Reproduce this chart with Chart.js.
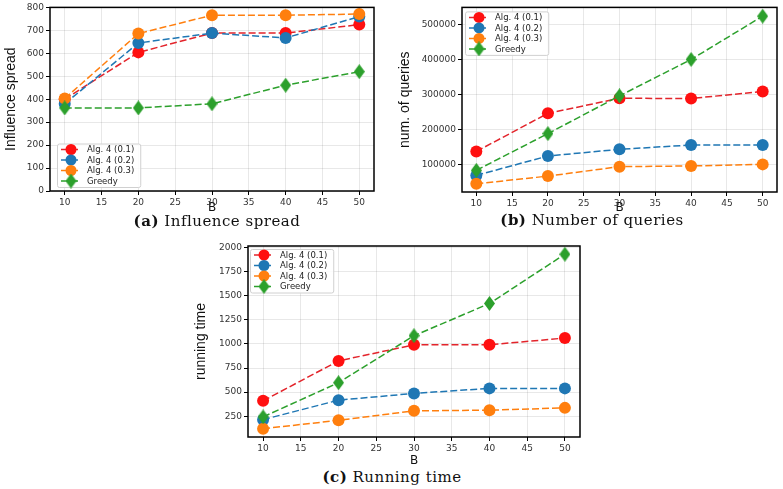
<!DOCTYPE html>
<html>
<head>
<meta charset="utf-8">
<script src="https://cdn.jsdelivr.net/npm/chart.js@4.4.1/dist/chart.umd.min.js"></script>
<style>
  body { margin: 0; background: #fff; width: 783px; height: 489px; position: relative; overflow: hidden; }
  .box { position: absolute; }
  .cap { position: absolute; font-family: "DejaVu Serif", serif; font-size: 15px; letter-spacing: 0.5px; line-height: 16px; color: #111; white-space: nowrap; transform: translateX(-50%); }
</style>
</head>
<body>
<div class="box" style="left:0;top:0;width:380px;height:215px"><canvas id="chartA"></canvas></div>
<div class="box" style="left:385px;top:0;width:398px;height:215px"><canvas id="chartB"></canvas></div>
<div class="box" style="left:190px;top:236px;width:400px;height:232px"><canvas id="chartC"></canvas></div>
<div class="cap" style="left:217px;top:213px"><b>(a)</b> Influence spread</div>
<div class="cap" style="left:592px;top:212px"><b>(b)</b> Number of queries</div>
<div class="cap" style="left:392px;top:469px"><b>(c)</b> Running time</div>

<script>
// budgets on the x axis, shared by all three plots
const budgets = [10, 20, 30, 40, 50];
const seriesNames = ['Alg. 4 (0.1)', 'Alg. 4 (0.2)', 'Alg. 4 (0.3)', 'Greedy'];
const xTicks = [10, 15, 20, 25, 30, 35, 40, 45, 50];

// (a) influence spread
const spreadAlg01 = [400, 604, 688, 688, 725];
const spreadAlg02 = [380, 645, 688, 667, 760];
const spreadAlg03 = [403, 686, 766, 766, 771];
const spreadGreedy = [362, 362, 380, 461, 520];
const spreadTicks = [0, 100, 200, 300, 400, 500, 600, 700, 800];

// (b) number of queries
const queriesAlg01 = [137000, 246000, 289000, 288500, 308500];
const queriesAlg02 = [68500, 124000, 143000, 155500, 155500];
const queriesAlg03 = [44500, 66500, 93500, 95500, 100000];
const queriesGreedy = [83000, 188000, 296000, 400000, 524000];
const queryTicks = [100000, 200000, 300000, 400000, 500000];

// (c) running time
const timeAlg01 = [410, 824, 991, 991, 1061];
const timeAlg02 = [215, 417, 487, 539, 539];
const timeAlg03 = [121, 208, 306, 313, 337];
const timeGreedy = [243, 598, 1085, 1419, 1930];
const timeTicks = [250, 500, 750, 1000, 1250, 1500, 1750, 2000];

const lineColors = ['#e3242b', '#1f77b4', '#ff7f0e', '#2ca02c'];
const markColors = ['#ff1010', '#1f77b4', '#ff7f0e', '#2ca02c'];

// thin diamond marker like matplotlib's 'd'
function makeDiamond(color) {
    const c = document.createElement('canvas');
    c.width = 11; c.height = 15;
    const g = c.getContext('2d');
    g.fillStyle = color;
    g.beginPath();
    g.moveTo(5.5, 0); g.lineTo(11, 7.5); g.lineTo(5.5, 15); g.lineTo(0, 7.5);
    g.closePath();
    g.fill();
    return c;
}
const diamond = makeDiamond('#2ca02c');

// box around the plot area (matplotlib spines)
const framePlugin = {
    id: 'frame',
    afterDraw(chart) {
        const { ctx, chartArea: a } = chart;
        ctx.save();
        ctx.strokeStyle = '#000';
        ctx.lineWidth = 1.5;
        ctx.strokeRect(a.left, a.top, a.right - a.left, a.bottom - a.top);
        ctx.restore();
    }
};

// legend drawn inside the plot, matplotlib style
const boxLegend = {
    id: 'boxLegend',
    afterDraw(chart, args, opts) {
        const { ctx, chartArea: a } = chart;
        const sets = chart.data.datasets;
        const rowH = 10.5;
        ctx.save();
        ctx.font = '8.5px "DejaVu Sans"';
        const textW = Math.max(...sets.map(d => ctx.measureText(d.label).width));
        const w = 30 + textW + 6;
        const h = 12 + (sets.length - 1) * rowH;
        const x = a.left + opts.dx;
        const y = opts.corner === 'bottom' ? a.bottom - opts.dy - h : a.top + opts.dy;
        ctx.fillStyle = 'rgba(255,255,255,0.85)';
        ctx.strokeStyle = '#d0d0d0';
        ctx.lineWidth = 1;
        ctx.beginPath();
        ctx.roundRect(x + 0.5, y + 0.5, w, h, 2);
        ctx.fill();
        ctx.stroke();
        sets.forEach((d, i) => {
            const cy = y + 6 + rowH * i;
            ctx.strokeStyle = d.borderColor;
            ctx.lineWidth = 1.5;
            ctx.setLineDash(d.borderDash);
            ctx.beginPath();
            ctx.moveTo(x + 4, cy); ctx.lineTo(x + 24, cy);
            ctx.stroke();
            ctx.setLineDash([]);
            if (d.pointStyle instanceof HTMLCanvasElement) {
                ctx.drawImage(d.pointStyle, x + 14 - d.pointStyle.width / 2, cy - d.pointStyle.height / 2);
            } else {
                ctx.fillStyle = d.pointBackgroundColor;
                ctx.beginPath();
                ctx.arc(x + 14, cy, 5.5, 0, Math.PI * 2);
                ctx.fill();
            }
            ctx.fillStyle = '#222';
            ctx.textBaseline = 'middle';
            ctx.fillText(d.label, x + 30, cy + 0.5);
        });
        ctx.restore();
    }
};

function makeDatasets(seriesList) {
    return seriesList.map((vals, i) => ({
        label: seriesNames[i],
        data: budgets.map((b, j) => ({ x: b, y: vals[j] })),
        borderColor: lineColors[i],
        borderWidth: 1.5,
        borderDash: [7, 3],
        pointStyle: i === 3 ? diamond : 'circle',
        pointRadius: 6,
        pointBackgroundColor: markColors[i],
        pointBorderColor: markColors[i],
        pointBorderWidth: 0,
        order: 3 - i,
        clip: false
    }));
}

function makeChart(id, cfg) {
    new Chart(document.getElementById(id), {
        type: 'line',
        data: { datasets: makeDatasets(cfg.series) },
        options: {
            responsive: true,
            maintainAspectRatio: false,
            animation: false,
            events: [],
            layout: { padding: cfg.padding },
            plugins: {
                legend: { display: false },
                tooltip: { enabled: false },
                boxLegend: cfg.legend
            },
            scales: {
                x: {
                    type: 'linear',
                    min: 8, max: 52,
                    afterBuildTicks: s => { s.ticks = xTicks.map(v => ({ value: v })); },
                    afterFit: s => { s.height = cfg.xHeight; },
                    border: { display: false },
                    grid: { color: 'rgba(0,0,0,0.09)', tickColor: '#000', tickLength: 4, lineWidth: 1 },
                    ticks: { color: '#333', font: { family: 'DejaVu Sans', size: 9 }, padding: 2, maxRotation: 0 },
                    title: { display: true, text: 'B', color: '#111', font: { family: 'DejaVu Sans', size: 12 }, padding: 0 }
                },
                y: {
                    min: cfg.yMin, max: cfg.yMax,
                    afterBuildTicks: s => { s.ticks = cfg.yTicks.map(v => ({ value: v })); },
                    afterFit: s => { s.width = cfg.yWidth; },
                    border: { display: false },
                    grid: { color: 'rgba(0,0,0,0.09)', tickColor: '#000', tickLength: 4, lineWidth: 1 },
                    ticks: { color: '#333', font: { family: 'DejaVu Sans', size: 9 }, padding: 2, callback: v => String(v) },
                    title: { display: true, text: cfg.yTitle, color: '#111', font: { family: 'Liberation Sans', size: 14 }, padding: { top: cfg.titlePad, bottom: 0 } }
                }
            }
        },
        plugins: [framePlugin, boxLegend]
    });
}

makeChart('chartA', {
    series: [spreadAlg01, spreadAlg02, spreadAlg03, spreadGreedy],
    yMin: 0, yMax: 800, yTicks: spreadTicks,
    yTitle: 'Influence spread', yWidth: 50, xHeight: 24, titlePad: 3,
    padding: { top: 6, right: 6, left: 0, bottom: 0 },
    legend: { corner: 'bottom', dx: 7, dy: 4 }
});

makeChart('chartB', {
    series: [queriesAlg01, queriesAlg02, queriesAlg03, queriesGreedy],
    yMin: 21000, yMax: 549000, yTicks: queryTicks,
    yTitle: 'num. of queries', yWidth: 77, xHeight: 23, titlePad: 12,
    padding: { top: 6, right: 1, left: 0, bottom: 0 },
    legend: { corner: 'top', dx: 3, dy: 4 }
});

makeChart('chartC', {
    series: [timeAlg01, timeAlg02, timeAlg03, timeGreedy],
    yMin: 35, yMax: 2015, yTicks: timeTicks,
    yTitle: 'running time', yWidth: 58, xHeight: 31, titlePad: 3,
    padding: { top: 10, right: 10, left: 0, bottom: 0 },
    legend: { corner: 'top', dx: 2, dy: 3 }
});
</script>
</body>
</html>
